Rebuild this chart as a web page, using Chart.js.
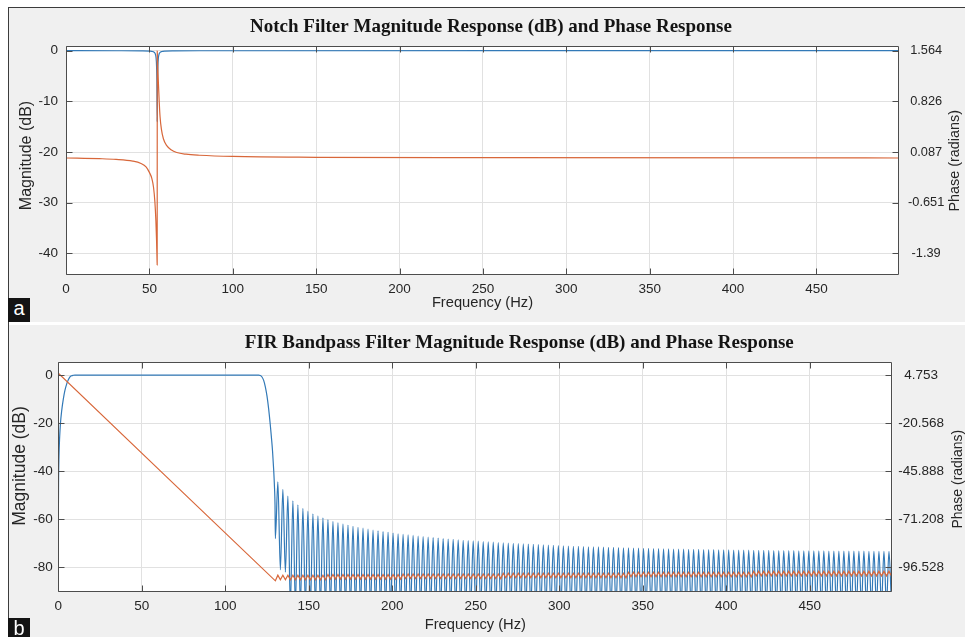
<!DOCTYPE html>
<html>
<head>
<meta charset="utf-8">
<script src="https://cdn.jsdelivr.net/npm/chart.js@4.4.1/dist/chart.umd.min.js"></script>
<style>
  html, body { margin: 0; padding: 0; background: #ffffff; }
  #page { position: relative; width: 965px; height: 637px; overflow: hidden; }
  #frame { position: absolute; left: 8px; top: 7px; width: 957px; height: 630px; box-sizing: border-box;
           border-top: 1px solid #3c3c3c; border-left: 1px solid #3c3c3c; background: #f0f0f0; }
  #gap { position: absolute; left: 9px; top: 322px; width: 956px; height: 3px; background: #ffffff; }
  canvas { position: absolute; left: 9px; }
  #notch { top: 8px; }
  #bandpass { top: 325px; }
  .tag { position: absolute; left: 8px; width: 22px; background: #141414; color: #ffffff;
         font: 20px "Liberation Sans", Arial, sans-serif; line-height: 20px; text-align: center; overflow: hidden; }
  #tagA { top: 298px; height: 24px; }
  #tagB { top: 618px; height: 19px; }
</style>
</head>
<body>
<div id="page">
  <div id="frame"></div>
  <div id="gap"></div>
  <canvas id="notch" width="956" height="314"></canvas>
  <canvas id="bandpass" width="956" height="312"></canvas>
  <div class="tag" id="tagA">a</div>
  <div class="tag" id="tagB">b</div>
</div>
<script>
// shared frequency ticks
const freqTicks = [0, 50, 100, 150, 200, 250, 300, 350, 400, 450];

// (a) notch filter
const notchMagHz = [0, 30, 45, 50, 52, 53, 53.6, 54.0, 54.3, 54.5, 54.7, 54.9, 55.1, 55.4, 55.8, 56.4, 57.4, 59.5, 65, 80, 499.5];
const notchMagDb = [0, -0.01, -0.03, -0.07, -0.16, -0.35, -0.7, -1.4, -3, -6, -14, -6, -3, -1.4, -0.7, -0.35, -0.16, -0.07, -0.03, -0.01, 0];
const notchPhaseHz = [0, 20, 30, 40, 45, 48, 50, 51.5, 52.5, 53.3, 53.9, 54.3, 54.55, 54.68, 54.72, 54.85, 55.0, 55.4, 55.9, 56.4, 57.2, 58.4, 60.4, 63, 66.4, 72, 80, 100, 150, 250, 499.5];
const notchPhaseRad = [0, -0.01, -0.02, -0.045, -0.08, -0.13, -0.21, -0.3, -0.43, -0.64, -0.92, -1.2, -1.45, -1.56, 1.56, 1.47, 1.33, 1.1, 0.82, 0.6, 0.42, 0.28, 0.18, 0.12, 0.08, 0.055, 0.04, 0.022, 0.01, 0.004, 0];
const notchDbTicks = [-40, -30, -20, -10, 0];
const notchRadTicks = [-1.39, -0.651, 0.087, 0.826, 1.564];
const notchRadLabels = ['-1.39', '-0.651', '0.087', '0.826', '1.564'];

// (b) FIR bandpass: passband and transition
const passMagHz = [0, 0.15, 0.4, 0.8, 1.3, 2, 3, 4, 5, 6, 7, 8, 9, 10, 11, 60, 120, 121, 122, 123, 124, 125, 126, 127, 127.6, 128.3, 129, 129.5, 129.8];
const passMagDb = [-64, -45, -34, -26, -20, -15, -10, -6.3, -3.8, -2.0, -0.8, -0.3, -0.1, 0, 0, 0, 0, -0.2, -0.8, -2.2, -4.9, -8.8, -14.2, -21, -25.6, -31.5, -39.5, -47, -54];

// stopband side lobes
const lobeNullHz = [
  130, 133, 136, 139, 142, 145, 148, 151, 154, 157,
  160, 163, 166, 169, 172, 175, 178, 181, 184, 187,
  190, 193, 196, 199, 202, 205, 208, 211, 214, 217,
  220, 223, 226, 229, 232, 235, 238, 241, 244, 247,
  250, 253, 256, 259, 262, 265, 268, 271, 274, 277,
  280, 283, 286, 289, 292, 295, 298, 301, 304, 307,
  310, 313, 316, 319, 322, 325, 328, 331, 334, 337,
  340, 343, 346, 349, 352, 355, 358, 361, 364, 367,
  370, 373, 376, 379, 382, 385, 388, 391, 394, 397,
  400, 403, 406, 409, 412, 415, 418, 421, 424, 427,
  430, 433, 436, 439, 442, 445, 448, 451, 454, 457,
  460, 463, 466, 469, 472, 475, 478, 481, 484, 487,
  490, 493, 496, 499];
const lobeNullDb = [
  -68, -81, -82, -96, -96, -96, -96, -96, -96, -96,
  -96, -96, -96, -96, -96, -96, -96, -96, -96, -96,
  -96, -96, -96, -96, -96, -96, -96, -96, -96, -96,
  -96, -96, -96, -96, -96, -96, -96, -96, -96, -96,
  -96, -96, -96, -96, -96, -96, -96, -96, -96, -96,
  -96, -96, -96, -96, -96, -96, -96, -96, -96, -96,
  -96, -96, -96, -96, -96, -96, -96, -96, -96, -96,
  -96, -96, -96, -96, -96, -96, -96, -96, -96, -96,
  -96, -96, -96, -96, -96, -96, -96, -96, -96, -96,
  -96, -96, -96, -96, -96, -96, -96, -96, -96, -96,
  -96, -96, -96, -96, -96, -96, -96, -96, -96, -96,
  -96, -96, -96, -96, -96, -96, -96, -96, -96, -96,
  -96, -96, -96, -96];
const lobePeakHz = [
  131.5, 134.5, 137.5, 140.5, 143.5, 146.5, 149.5, 152.5, 155.5, 158.5,
  161.5, 164.5, 167.5, 170.5, 173.5, 176.5, 179.5, 182.5, 185.5, 188.5,
  191.5, 194.5, 197.5, 200.5, 203.5, 206.5, 209.5, 212.5, 215.5, 218.5,
  221.5, 224.5, 227.5, 230.5, 233.5, 236.5, 239.5, 242.5, 245.5, 248.5,
  251.5, 254.5, 257.5, 260.5, 263.5, 266.5, 269.5, 272.5, 275.5, 278.5,
  281.5, 284.5, 287.5, 290.5, 293.5, 296.5, 299.5, 302.5, 305.5, 308.5,
  311.5, 314.5, 317.5, 320.5, 323.5, 326.5, 329.5, 332.5, 335.5, 338.5,
  341.5, 344.5, 347.5, 350.5, 353.5, 356.5, 359.5, 362.5, 365.5, 368.5,
  371.5, 374.5, 377.5, 380.5, 383.5, 386.5, 389.5, 392.5, 395.5, 398.5,
  401.5, 404.5, 407.5, 410.5, 413.5, 416.5, 419.5, 422.5, 425.5, 428.5,
  431.5, 434.5, 437.5, 440.5, 443.5, 446.5, 449.5, 452.5, 455.5, 458.5,
  461.5, 464.5, 467.5, 470.5, 473.5, 476.5, 479.5, 482.5, 485.5, 488.5,
  491.5, 494.5, 497.5];
const lobePeakDb = [
  -44.4, -47.5, -50.3, -52.3, -54.0, -55.4, -56.6, -57.7, -58.6, -59.4,
  -60.1, -60.8, -61.4, -61.9, -62.4, -62.9, -63.3, -63.7, -64.1, -64.5,
  -64.8, -65.1, -65.4, -65.7, -66.0, -66.2, -66.5, -66.7, -67.0, -67.2,
  -67.4, -67.6, -67.8, -68.0, -68.2, -68.3, -68.5, -68.7, -68.8, -69.0,
  -69.1, -69.3, -69.4, -69.5, -69.7, -69.8, -69.9, -70.0, -70.1, -70.2,
  -70.3, -70.4, -70.5, -70.6, -70.7, -70.8, -70.9, -71.0, -71.1, -71.2,
  -71.2, -71.3, -71.4, -71.5, -71.5, -71.6, -71.7, -71.7, -71.8, -71.9,
  -71.9, -72.0, -72.0, -72.1, -72.1, -72.2, -72.2, -72.3, -72.3, -72.4,
  -72.4, -72.4, -72.5, -72.5, -72.5, -72.6, -72.6, -72.6, -72.7, -72.7,
  -72.7, -72.8, -72.8, -72.8, -72.8, -72.9, -72.9, -72.9, -72.9, -73.0,
  -73.0, -73.0, -73.0, -73.0, -73.1, -73.1, -73.1, -73.1, -73.1, -73.1,
  -73.2, -73.2, -73.2, -73.2, -73.2, -73.2, -73.2, -73.2, -73.3, -73.3,
  -73.3, -73.3, -73.3];

// phase (radians): linear part, then the small saw teeth in the stopband
const phaseLineHz = [0, 65];
const phaseLineRad = [5.7, -49.0];
const phaseNullRad = [
  -103.6, -103.0, -103.0, -103.0, -103.0, -103.0, -103.0, -103.0, -103.0, -103.0,
  -103.0, -102.7, -102.7, -102.7, -102.7, -102.7, -102.7, -102.7, -102.7, -102.7,
  -102.7, -102.7, -102.7, -102.7, -102.7, -102.7, -102.4, -102.4, -102.4, -102.4,
  -102.4, -102.4, -102.4, -102.4, -102.4, -102.4, -102.4, -102.4, -102.4, -102.4,
  -102.4, -102.4, -102.4, -102.4, -102.4, -102.4, -102.0, -102.0, -102.0, -102.0,
  -102.0, -102.0, -102.0, -102.0, -102.0, -102.0, -102.0, -102.0, -102.0, -102.0,
  -102.0, -102.0, -102.0, -102.0, -102.0, -102.0, -102.0, -102.0, -102.0, -102.0,
  -102.0, -101.5, -101.5, -101.5, -101.5, -101.5, -101.5, -101.5, -101.5, -101.5,
  -101.5, -101.5, -101.5, -101.5, -101.5, -101.5, -101.5, -101.5, -101.5, -101.5,
  -101.5, -101.5, -101.5, -101.5, -101.5, -101.5, -101.0, -101.0, -101.0, -101.0,
  -101.0, -101.0, -101.0, -101.0, -101.0, -101.0, -101.0, -101.0, -101.0, -101.0,
  -101.0, -101.0, -101.0, -101.0, -101.0, -101.0, -101.0, -101.0, -101.0, -101.0,
  -101.0, -101.0, -101.0, -101.0];
const phasePeakRad = [
  -100.6, -100.6, -100.6, -100.6, -100.6, -100.6, -100.6, -100.6, -100.6, -100.6,
  -100.3, -100.3, -100.3, -100.3, -100.3, -100.3, -100.3, -100.3, -100.3, -100.3,
  -100.3, -100.3, -100.3, -100.3, -100.3, -100.0, -100.0, -100.0, -100.0, -100.0,
  -100.0, -100.0, -100.0, -100.0, -100.0, -100.0, -100.0, -100.0, -100.0, -100.0,
  -100.0, -100.0, -100.0, -100.0, -100.0, -99.6, -99.6, -99.6, -99.6, -99.6,
  -99.6, -99.6, -99.6, -99.6, -99.6, -99.6, -99.6, -99.6, -99.6, -99.6,
  -99.6, -99.6, -99.6, -99.6, -99.6, -99.6, -99.6, -99.6, -99.6, -99.6,
  -99.1, -99.1, -99.1, -99.1, -99.1, -99.1, -99.1, -99.1, -99.1, -99.1,
  -99.1, -99.1, -99.1, -99.1, -99.1, -99.1, -99.1, -99.1, -99.1, -99.1,
  -99.1, -99.1, -99.1, -99.1, -99.1, -98.6, -98.6, -98.6, -98.6, -98.6,
  -98.6, -98.6, -98.6, -98.6, -98.6, -98.6, -98.6, -98.6, -98.6, -98.6,
  -98.6, -98.6, -98.6, -98.6, -98.6, -98.6, -98.6, -98.6, -98.6, -98.6,
  -98.6, -98.6, -98.6];
const bandDbTicks = [-80, -60, -40, -20, 0];
const bandRadTicks = [-96.528, -71.208, -45.888, -20.568, 4.753];
const bandRadLabels = ['-96.528', '-71.208', '-45.888', '-20.568', '4.753'];

const BLUE = '#3279b7';
const ORANGE = '#d8673a';
const GRID = '#e1e1e1';
const BOX = '#4d4d4d';
const INK = '#262626';
const SANS = '"Liberation Sans", Arial, Helvetica, sans-serif';

Chart.defaults.font.family = SANS;
Chart.defaults.color = INK;

function pts(xs, ys) {
    return xs.map(function(x, i) { return {x: x, y: ys[i]}; });
}
function byX(p, q) { return p.x - q.x; }

function vText(ctx, s, x, y, size) {
    ctx.save();
    ctx.translate(x, y);
    ctx.rotate(-Math.PI / 2);
    ctx.font = size + 'px ' + SANS;
    ctx.textAlign = 'center';
    ctx.textBaseline = 'middle';
    ctx.fillText(s, 0, 0);
    ctx.restore();
}

// white plot area, box with inward ticks, titles
function decor(t) {
    return {
        id: 'decor',
        beforeDraw: function(chart) {
            const a = chart.chartArea, ctx = chart.ctx;
            ctx.save();
            ctx.fillStyle = '#ffffff';
            ctx.fillRect(a.left, a.top, a.right - a.left, a.bottom - a.top);
            ctx.restore();
        },
        afterDraw: function(chart) {
            const a = chart.chartArea, ctx = chart.ctx, s = chart.scales;
            const L = Math.round(a.left) + 0.5, R = Math.round(a.right) - 0.5;
            const T = Math.round(a.top) + 0.5, B = Math.round(a.bottom) - 0.5;
            ctx.save();
            ctx.strokeStyle = BOX;
            ctx.lineWidth = 1;
            ctx.beginPath();
            ctx.rect(L, T, R - L, B - T);
            s.x.ticks.forEach(function(tk) {
                const px = Math.round(s.x.getPixelForValue(tk.value)) + 0.5;
                ctx.moveTo(px, B); ctx.lineTo(px, B - 6);
                ctx.moveTo(px, T); ctx.lineTo(px, T + 6);
            });
            s.y.ticks.forEach(function(tk) {
                const py = Math.round(s.y.getPixelForValue(tk.value)) + 0.5;
                ctx.moveTo(L, py); ctx.lineTo(L + 6, py);
            });
            s.y2.ticks.forEach(function(tk) {
                const py = Math.round(s.y2.getPixelForValue(tk.value)) + 0.5;
                ctx.moveTo(R, py); ctx.lineTo(R - 6, py);
            });
            ctx.stroke();

            ctx.fillStyle = '#141414';
            ctx.font = 'bold 19px "Liberation Serif", "Times New Roman", serif';
            ctx.textAlign = 'center';
            ctx.textBaseline = 'alphabetic';
            ctx.fillText(t.title, t.titleX, t.titleY);

            ctx.fillStyle = INK;
            ctx.font = t.xFont + 'px ' + SANS;
            ctx.textBaseline = 'middle';
            ctx.fillText('Frequency (Hz)', (a.left + a.right) / 2, t.xTitleY);
            vText(ctx, 'Magnitude (dB)', t.yTitleX, t.yTitleY, t.yFont);
            vText(ctx, 'Phase (radians)', t.y2TitleX, t.y2TitleY, t.y2Font);
            ctx.restore();
        }
    };
}

function tickObjs(vals) {
    return vals.map(function(v) { return {value: v}; });
}

function makeChart(id, o) {
    const tickFont = {size: 13.5};
    return new Chart(document.getElementById(id), {
        type: 'line',
        data: {
            datasets: [{
                data: o.phase,
                yAxisID: 'y2',
                borderColor: ORANGE,
                borderWidth: 1.2,
                pointRadius: 0,
                tension: 0,
                cubicInterpolationMode: o.phaseMode
            }, {
                data: o.mag,
                yAxisID: 'y',
                borderColor: BLUE,
                borderWidth: 1.2,
                pointRadius: 0,
                cubicInterpolationMode: 'monotone'
            }]
        },
        options: {
            responsive: false,
            animation: false,
            devicePixelRatio: 1,
            events: [],
            layout: {padding: {top: o.top, left: 0, right: 0, bottom: 0}},
            plugins: {legend: {display: false}, tooltip: {enabled: false}},
            scales: {
                x: {
                    type: 'linear', min: 0, max: 499.5, bounds: 'data',
                    grid: {color: GRID, lineWidth: 1, drawTicks: false},
                    border: {display: false},
                    ticks: {font: tickFont, color: INK, padding: o.xPad, maxRotation: 0, autoSkip: false,
                            callback: function(v) { return String(v); }},
                    afterBuildTicks: function(ax) { ax.ticks = tickObjs(freqTicks); },
                    afterFit: function(ax) { ax.height = o.xHeight; }
                },
                y: {
                    type: 'linear', position: 'left', min: o.yMin, max: o.yMax, bounds: 'data',
                    grid: {color: GRID, lineWidth: 1, drawTicks: false},
                    border: {display: false},
                    ticks: {font: tickFont, color: INK, padding: o.yPad, autoSkip: false,
                            callback: function(v) { return String(v); }},
                    afterBuildTicks: function(ax) { ax.ticks = tickObjs(o.yTicks); },
                    afterFit: function(ax) { ax.width = o.yWidth; }
                },
                y2: {
                    type: 'linear', position: 'right', min: o.y2Min, max: o.y2Max, bounds: 'data',
                    grid: {display: false, drawTicks: false},
                    border: {display: false},
                    ticks: {font: {size: o.y2FontSize}, color: INK, padding: o.y2Pad, crossAlign: 'center', autoSkip: false,
                            callback: function(v, i) { return o.y2Labels[i]; }},
                    afterBuildTicks: function(ax) { ax.ticks = tickObjs(o.y2Ticks); },
                    afterFit: function(ax) { ax.width = o.y2Width; }
                }
            }
        },
        plugins: [decor(o.text)]
    });
}

document.addEventListener("DOMContentLoaded", function() {
    // (a)
    makeChart('notch', {
        mag: pts(notchMagHz, notchMagDb),
        phase: pts(notchPhaseHz, notchPhaseRad),
        phaseMode: 'monotone',
        top: 38, xHeight: 47, yWidth: 57, y2Width: 66,
        xPad: 6.3, yPad: 8, y2Pad: 9, y2FontSize: 12.8,
        yMin: -44.28, yMax: 0.93, y2Min: -1.7061, y2Max: 1.6327,
        yTicks: notchDbTicks, y2Ticks: notchRadTicks, y2Labels: notchRadLabels,
        text: {
            title: 'Notch Filter Magnitude Response (dB) and Phase Response', titleX: 482, titleY: 23.7,
            xFont: 14.7, xTitleY: 295,
            yFont: 16, yTitleX: 17.7, yTitleY: 147.5,
            y2Font: 14.4, y2TitleX: 946.3, y2TitleY: 152.8
        }
    });

    // (b)
    const bandMag = pts(passMagHz, passMagDb)
        .concat(pts(lobeNullHz, lobeNullDb), pts(lobePeakHz, lobePeakDb))
        .sort(byX);
    const bandPhase = pts(phaseLineHz, phaseLineRad)
        .concat(pts(lobeNullHz, phaseNullRad), pts(lobePeakHz, phasePeakRad))
        .sort(byX);
    makeChart('bandpass', {
        mag: bandMag,
        phase: bandPhase,
        phaseMode: 'default',
        top: 37.3, xHeight: 45.3, yWidth: 49.3, y2Width: 72.7,
        xPad: 6.9, yPad: 5.6, y2Pad: 6, y2FontSize: 13.5,
        yMin: -90.1, yMax: 5.3, y2Min: -109.318, y2Max: 11.463,
        yTicks: bandDbTicks, y2Ticks: bandRadTicks, y2Labels: bandRadLabels,
        text: {
            title: 'FIR Bandpass Filter Magnitude Response (dB) and Phase Response', titleX: 510.3, titleY: 23.3,
            xFont: 14.7, xTitleY: 300,
            yFont: 17.5, yTitleX: 11, yTitleY: 141,
            y2Font: 14, y2TitleX: 949.3, y2TitleY: 154.2
        }
    });
});
</script>
</body>
</html>
